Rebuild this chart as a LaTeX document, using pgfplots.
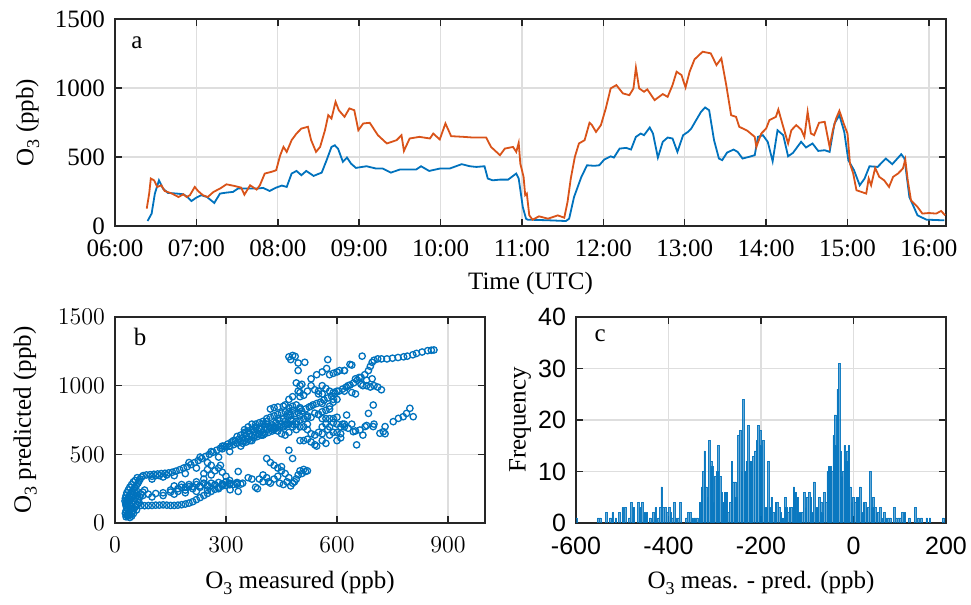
\documentclass[border=0pt]{standalone}
\usepackage[no-math]{fontspec}
\setmainfont{Liberation Serif}
\newfontfamily\sansticks{Liberation Sans}
\usepackage{pgfplots}
\pgfplotsset{compat=1.18}
\definecolor{mblue}{RGB}{0,114,189}
\definecolor{morange}{RGB}{217,83,25}
\definecolor{maxis}{RGB}{38,38,38}
\definecolor{mgrid}{RGB}{222,222,222}
\newcommand{\Othree}{O\raisebox{-0.5ex}{\fontsize{9}{9}\selectfont 3}}
\pgfplotsset{
  mstyle/.style={
    scale only axis,
    axis line style={maxis, line width=0.75pt},
    every tick/.style={maxis, line width=0.75pt},
    major tick length=3.5pt,
    tick align=inside,
    xtick pos=both, ytick pos=both,
    grid=major,
    major grid style={mgrid, line width=0.6pt},
    tick label style={font=\fontsize{12.5}{15}\selectfont, text=black},
    xticklabel style={yshift=-3.5pt},
    yticklabel style={xshift=-1.5pt},
    label style={font=\fontsize{12.5}{15}\selectfont, text=black},
  }
}
\begin{document}
\begin{tikzpicture}
\useasboundingbox (0,0) rectangle (485.5pt,-302.5pt);
% ---------------- panel a ----------------
\begin{axis}[mstyle,
  at={(57.5pt,-9.5pt)}, anchor=north west,
  width=415.5pt, height=103.5pt,
  xmin=6, xmax=16.21, ymin=0, ymax=1500,
  xtick={6,7,8,9,10,11,12,13,14,15,16},
  xticklabels={06:00,07:00,08:00,09:00,10:00,11:00,12:00,13:00,14:00,15:00,16:00},
  ytick={0,500,1000,1500},
  /pgf/number format/assume math mode=true,
  yticklabel style={/pgf/number format/.cd, 1000 sep={}},
  xlabel={Time (UTC)},
  ylabel={\Othree\ (ppb)},
  xlabel style={at={(axis description cs:0.5,-0.28)}, anchor=center},
  ylabel style={at={(axis description cs:-0.105,0.5)}, anchor=center},
]
\addplot[mblue, line width=0.9pt] coordinates {
(6.40,36)(6.45,90)(6.49,235)(6.54,331)(6.59,271)(6.65,240)(6.76,235)(6.84,230)(6.89,210)(6.94,181)(7.00,206)(7.06,223)(7.13,210)(7.22,167)(7.29,235)(7.37,242)(7.45,247)(7.51,271)(7.62,271)(7.74,271)(7.82,276)(7.90,254)(7.98,278)(8.05,293)(8.11,283)(8.17,380)(8.23,399)(8.29,368)(8.35,399)(8.44,363)(8.54,387)(8.60,477)(8.66,573)(8.70,585)(8.74,561)(8.80,465)(8.85,496)(8.90,452)(8.96,421)(9.09,433)(9.21,416)(9.29,416)(9.39,387)(9.50,409)(9.70,409)(9.76,433)(9.86,399)(9.99,416)(10.11,416)(10.26,448)(10.36,433)(10.44,428)(10.54,433)(10.58,344)(10.64,331)(10.73,336)(10.83,336)(10.93,380)(10.96,344)(11.01,138)(11.05,53)(11.07,46)(11.34,41)(11.54,36)(11.58,53)(11.64,210)(11.73,356)(11.80,440)(11.89,436)(11.95,440)(12.01,481)(12.09,505)(12.13,496)(12.20,561)(12.28,566)(12.34,554)(12.40,646)(12.46,670)(12.50,658)(12.57,714)(12.61,670)(12.67,496)(12.73,610)(12.79,641)(12.85,634)(12.91,537)(12.98,658)(13.04,682)(13.08,706)(13.14,767)(13.20,827)(13.25,859)(13.30,839)(13.36,622)(13.42,489)(13.46,477)(13.52,532)(13.60,554)(13.65,537)(13.71,489)(13.79,501)(13.86,513)(13.90,646)(13.96,658)(14.02,610)(14.08,469)(14.14,694)(14.21,658)(14.27,505)(14.33,530)(14.43,610)(14.49,569)(14.57,598)(14.64,544)(14.72,549)(14.78,537)(14.84,743)(14.90,803)(14.96,682)(15.01,477)(15.08,404)(15.15,295)(15.21,344)(15.27,433)(15.37,428)(15.47,489)(15.55,448)(15.66,520)(15.70,489)(15.76,210)(15.86,77)(15.97,46)(16.19,41)
};
\addplot[morange, line width=0.9pt] coordinates {
(6.39,126)(6.42,235)(6.44,344)(6.48,331)(6.52,283)(6.57,295)(6.61,254)(6.70,235)(6.78,210)(6.84,230)(6.88,210)(6.92,223)(6.98,283)(7.02,254)(7.08,223)(7.14,210)(7.21,247)(7.29,271)(7.37,302)(7.47,290)(7.55,278)(7.59,227)(7.66,295)(7.74,264)(7.78,295)(7.84,380)(7.92,392)(7.98,404)(8.03,513)(8.07,573)(8.11,537)(8.17,622)(8.23,670)(8.29,706)(8.37,719)(8.41,622)(8.47,537)(8.52,573)(8.58,694)(8.62,803)(8.66,779)(8.71,900)(8.75,839)(8.82,791)(8.88,852)(8.94,839)(8.99,694)(9.05,743)(9.13,748)(9.23,658)(9.34,598)(9.46,622)(9.52,658)(9.55,544)(9.62,634)(9.74,646)(9.87,634)(9.91,670)(9.99,627)(10.06,743)(10.13,651)(10.28,646)(10.40,641)(10.56,641)(10.62,573)(10.73,513)(10.79,561)(10.89,573)(10.93,537)(10.96,602)(10.98,452)(11.02,356)(11.04,223)(11.06,235)(11.09,77)(11.13,46)(11.21,70)(11.32,53)(11.44,77)(11.52,60)(11.56,174)(11.60,344)(11.65,501)(11.70,598)(11.77,622)(11.83,748)(11.86,731)(11.91,682)(11.97,731)(12.03,852)(12.09,997)(12.16,1021)(12.24,961)(12.32,948)(12.37,997)(12.40,1147)(12.44,997)(12.50,973)(12.54,990)(12.63,912)(12.73,956)(12.79,936)(12.85,1021)(12.90,1118)(12.96,1094)(13.01,1004)(13.06,1118)(13.12,1207)(13.22,1263)(13.32,1251)(13.39,1166)(13.45,1215)(13.51,1021)(13.57,803)(13.63,791)(13.67,719)(13.77,690)(13.86,646)(13.88,573)(13.94,670)(14.00,706)(14.04,767)(14.12,791)(14.15,844)(14.21,719)(14.27,598)(14.31,694)(14.37,731)(14.43,699)(14.47,646)(14.51,827)(14.55,670)(14.59,658)(14.65,748)(14.72,755)(14.78,573)(14.82,694)(14.86,779)(14.90,835)(14.96,731)(15.00,670)(15.03,452)(15.07,380)(15.11,259)(15.17,247)(15.23,235)(15.26,344)(15.29,295)(15.34,421)(15.39,356)(15.45,331)(15.51,283)(15.56,356)(15.62,380)(15.68,416)(15.71,481)(15.74,331)(15.78,186)(15.86,138)(15.92,90)(16.00,94)(16.09,90)(16.15,109)(16.20,77)
};
\node[font=\fontsize{12.5}{15}\selectfont] at (axis description cs:0.0265,0.884) {a};
\end{axis}
% ---------------- panel b ----------------
\begin{axis}[mstyle,
  at={(57.5pt,-158.5pt)}, anchor=north west,
  width=185pt, height=103pt,
  xmin=0, xmax=1000, ymin=0, ymax=1500,
  xtick={0,300,600,900}, ytick={0,500,1000,1500},
  yticklabel style={/pgf/number format/.cd, 1000 sep={}},
  xlabel={\Othree\ measured (ppb)},
  ylabel={\Othree\ predicted (ppb)},
  xlabel style={at={(axis description cs:0.5,-0.29)}, anchor=center},
  ylabel style={at={(axis description cs:-0.243,0.5)}, anchor=center},
]
\addplot[only marks, mark=o, mark size=1.6pt, mblue, mark options={line width=0.65pt}] coordinates {
(30,45)(33,55)(36,65)(38,80)(35,95)(32,110)(30,125)(29,140)(31,155)(33,170)(36,185)(39,200)(42,215)(46,230)(50,245)(54,260)(58,275)(62,290)(65,305)(68,320)(72,335)(76,345)(40,60)(45,75)(48,90)(52,105)(42,120)(46,140)(50,160)(55,180)(60,200)(35,150)(38,170)(44,190)(49,210)(53,225)(57,240)(34,130)(40,145)(55,120)(60,135)(65,150)(45,105)(58,95)(50,70)(40,40)(45,50)(62,170)(67,190)(70,210)(75,225)(80,240)
(100,340)(110,345)(120,345)(140,350)(60,330)(55,310)(50,300)(45,280)(40,260)(36,240)(32,220)(30,200)(28,180)(27,160)(30,90)(28,70)(32,60)(35,50)
(85,350)(95,352)(105,355)(115,357)(125,360)(135,362)(145,365)(155,370)(165,378)(175,388)(185,400)(195,410)(205,425)(215,440)(225,455)(235,470)(245,485)(255,500)(265,515)(275,530)(285,545)(295,560)(305,575)(315,590)(325,600)(335,610)(345,620)(355,635)(365,650)(375,665)(385,675)(395,685)(405,695)(415,705)(425,715)(435,730)(445,745)(455,760)(465,775)(475,785)(485,795)(495,805)(505,815)(515,830)(525,845)(535,860)(545,870)(555,880)(565,895)(575,910)(585,925)(595,945)(605,960)(615,975)(625,990)(635,1005)(645,1020)(655,1040)(665,1060)(675,1080)(685,1110)(690,1140)(695,1170)(700,1185)(710,1195)(720,1195)(735,1195)(750,1200)(765,1205)(780,1210)(790,1215)(805,1225)(815,1235)(830,1245)(845,1255)(855,1258)(862,1260)
(100,320)(130,335)(160,345)(190,360)(220,400)(250,440)(280,480)(310,520)(340,560)(370,600)(400,640)(430,680)(460,710)(490,740)(520,770)(550,790)(580,830)
(200,440)(230,480)(260,520)(290,560)(320,600)(350,650)(380,690)(410,720)(440,760)(470,790)(500,830)(530,850)(560,870)(590,900)
(290,540)(300,555)(310,560)(320,570)(330,580)(340,590)(350,600)(360,610)(370,630)(380,640)(390,650)(400,660)(410,680)(420,690)(430,700)(440,710)(450,720)(460,740)(345,580)(355,590)(365,600)(375,620)(385,630)(395,640)(405,650)(415,660)(425,670)(435,690)(445,700)(455,700)(465,720)(475,750)(330,630)(340,640)(350,660)(360,670)(370,680)(380,720)(390,730)(400,740)(410,760)(420,770)(430,780)(440,790)(450,800)(460,810)(470,810)(480,820)
(60,130)(70,128)(80,126)(90,127)(100,128)(110,130)(120,130)(130,132)(140,130)(150,128)(160,128)(170,130)(180,133)(190,138)(200,145)(210,155)(220,170)(230,185)(240,200)(250,215)(260,230)(270,245)(280,260)(290,270)(300,275)(310,278)(320,280)(330,282)(340,283)
(75,200)(90,210)(110,215)(130,220)(150,225)(170,230)(190,240)(210,250)(230,260)(250,268)(270,275)(290,280)(310,285)(330,290)(345,290)(100,190)(130,200)(160,210)(190,220)(220,230)(250,240)(280,250)(180,260)(200,280)(220,300)(240,320)(260,350)(270,380)(280,400)(285,420)(260,420)(250,390)(240,360)(290,370)(300,340)(310,310)(333,375)(333,230)(311,242)
(150,240)(170,250)(190,260)(210,265)(230,270)(250,275)(270,280)(290,285)(310,290)(330,295)(160,270)(180,280)(200,265)(220,280)(240,290)(260,290)(280,295)(300,300)
(380,260)(385,250)(400,300)(410,330)(415,300)(420,290)(430,320)(440,340)(445,290)(455,280)(465,300)(475,270)(480,290)(485,300)(490,320)(495,350)(500,380)(505,360)(510,390)(515,375)(520,380)(470,330)(460,360)(450,380)(440,400)(430,420)(420,440)(410,470)(470,530)(480,470)(450,410)(400,350)(390,320)(370,320)(360,330)
(350,680)(360,700)(370,720)(380,700)(390,690)(400,720)(410,740)(420,700)(430,690)(440,670)(450,650)(460,640)(470,660)(480,700)(490,720)(500,750)(510,760)(520,780)(530,770)(540,800)(550,790)(560,810)(570,820)(580,850)(590,880)(600,900)(420,830)(430,840)(440,845)(455,850)(470,840)(480,850)(490,860)(500,840)(500,780)(510,700)(520,680)(530,650)(540,640)(550,660)(560,700)(570,720)(480,720)(490,680)(500,600)(510,600)(520,610)(530,590)(540,570)(545,560)(560,650)(575,680)(580,700)(590,730)(600,660)(610,650)(620,700)(630,690)(640,720)(600,720)(620,720)
(500,950)(510,930)(520,960)(530,1000)(540,970)(550,960)(560,1000)(570,980)(580,960)(590,950)(600,960)(550,940)(560,940)(500,1000)(490,1020)(505,1010)(530,1050)(545,1080)(560,1100)(580,1080)(600,1100)(620,1110)(640,1150)(660,1060)(670,1000)(680,1000)(690,990)(700,1000)(710,990)(720,970)(650,940)(640,950)(620,960)(630,1000)(650,1050)(665,1010)(680,1040)(695,1050)
(470,1210)(480,1220)(487,1213)(475,1190)(495,1165)(513,1170)(495,1110)(575,1190)(572,1125)(590,1090)(607,1110)(620,1110)(635,1155)(668,1215)(460,860)(470,900)(480,920)(495,960)(500,920)(470,720)(460,720)(480,740)(500,700)(520,720)(560,760)(570,760)(580,760)(590,760)(600,770)(560,600)(570,580)(580,640)(590,660)(600,600)(610,620)
(626,786)(644,665)(653,569)(662,677)(676,702)(685,798)(698,859)(698,702)(716,653)(725,665)(730,702)(752,738)(766,762)(779,774)(788,798)(797,835)(806,774)(650,670)(670,640)(680,710)(700,720)(730,650)(610,700)(615,720)
};
\node[font=\fontsize{12.5}{15}\selectfont] at (axis description cs:0.068,0.903) {b};
\end{axis}
% ---------------- panel c ----------------
\begin{axis}[mstyle,
  at={(288pt,-158.5pt)}, anchor=north west,
  width=185pt, height=103pt,
  xmin=-600, xmax=200, ymin=0, ymax=40,
  xtick={-600,-400,-200,0,200}, ytick={0,10,20,30,40},
  /pgf/number format/assume math mode=true,
  tick label style={font=\sansticks\fontsize{12.5}{15}\selectfont},
  xlabel={\Othree\ meas. - pred. (ppb)},
  ylabel={Frequency},
  xlabel style={at={(axis description cs:0.5,-0.29)}, anchor=center},
  ylabel style={at={(axis description cs:-0.151,0.5)}, anchor=center},
]
\addplot[ybar, bar width=3.4, bar shift=0pt, fill=mblue, fill opacity=0.6, draw=mblue, draw opacity=0.9, line width=0.25pt] coordinates {
(-600,1)(-552,1)(-548,1)(-534,2)(-526,1)(-521,2)(-514,1)(-506,2)(-499,3)(-493,3)(-485,1)(-480,4)(-475,3)(-465,4)(-462,3)(-457,4)(-451,2)(-447,2)(-440,1)(-433,2)(-428,3)(-422,1)(-418,3)(-415,7)(-411,3)(-407,3)(-403,2)(-398,3)(-395,2)(-392,1)(-387,4)(-384,1)(-379,1)(-374,4)(-362,1)(-357,2)(-353,2)(-348,1)(-343,1)(-338,1)(-332,4)(-328,7)(-325,10)(-322,14)(-318,7)(-315,5)(-312,16)(-308,12)(-305,11)(-302,4)(-299,9)(-295,10)(-292,15)(-288,9)(-285,6)(-281,4)(-278,6)(-274,6)(-271,2)(-267,4)(-263,12)(-260,8)(-256,8)(-253,5)(-249,17)(-245,18)(-242,10)(-238,24)(-235,10)(-231,12)(-227,19)(-224,12)(-220,12)(-217,13)(-213,14)(-209,16)(-206,19)(-202,18)(-199,15)(-195,16)(-192,3)(-188,3)(-184,12)(-181,3)(-177,5)(-173,2)(-168,4)(-165,4)(-161,3)(-157,2)(-153,1)(-148,5)(-145,3)(-141,2)(-138,3)(-134,3)(-129,7)(-125,6)(-121,5)(-118,2)(-114,2)(-111,2)(-107,6)(-103,3)(-100,5)(-96,6)(-92,5)(-88,2)(-85,8)(-81,3)(-78,3)(-74,5)(-70,4)(-67,2)(-63,6)(-59,4)(-56,10)(-53,11)(-50,11)(-46,10)(-43,17)(-40,21)(-37,15)(-34,26)(-31,31)(-28,14)(-25,9)(-22,10)(-19,15)(-16,12)(-13,14)(-10,15)(-7,7)(-4,4)(0,5)(4,4)(7,5)(11,5)(14,7)(18,2)(22,4)(25,4)(29,3)(32,3)(36,10)(40,3)(43,5)(47,3)(50,2)(54,2)(58,3)(61,1)(66,2)(70,1)(75,1)(79,1)(88,3)(92,1)(97,1)(101,1)(106,2)(111,2)(121,1)(133,3)(140,1)(147,1)(158,1)(165,1)(194,1)
};
\node[font=\fontsize{12.5}{15}\selectfont] at (axis description cs:0.065,0.91) {c};
\end{axis}
\end{tikzpicture}
\end{document}
